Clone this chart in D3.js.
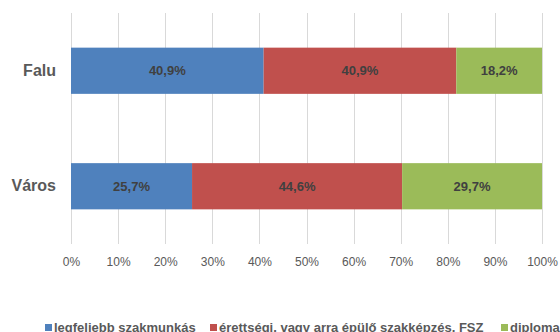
<!DOCTYPE html>
<html>
<head>
<meta charset="utf-8">
<script src="https://cdn.jsdelivr.net/npm/d3@7"></script>
<style>
  html, body { margin: 0; padding: 0; background: #fff; }
  svg { display: block; font-family: "Liberation Sans", Arial, sans-serif; }
</style>
</head>
<body>
<svg id="chart" width="560" height="332"></svg>
<script>
// Categories (top to bottom) and the three education series, in percent
const categories = ["Falu", "Város"];
const seriesNames = ["legfeljebb szakmunkás", "érettségi, vagy arra épülő szakképzés, FSZ", "diploma"];
const seriesColors = ["#4f81bd", "#c0504d", "#9bbb59"];
const szakmunkas = [40.9, 25.7];
const erettsegi = [40.9, 44.6];
const diploma = [18.2, 29.7];
const tickValues = [0, 10, 20, 30, 40, 50, 60, 70, 80, 90, 100];

const seriesValues = [szakmunkas, erettsegi, diploma];
const rows = categories.map((c, i) => {
  const r = { cat: c };
  seriesNames.forEach((s, j) => { r[s] = seriesValues[j][i]; });
  return r;
});

const svg = d3.select("#chart");
const margin = { left: 71, right: 18, top: 13, bottom: 88 };
const W = 560, H = 332;

const x = d3.scaleLinear().domain([0, 100]).range([margin.left, W - margin.right]);
const y = d3.scaleBand().domain(categories).range([margin.top, H - margin.bottom])
  .paddingInner(0.6).paddingOuter(0.3);

// vertical gridlines
svg.append("g")
  .selectAll("line").data(tickValues).join("line")
  .attr("x1", d => Math.round(x(d)) + 0.5).attr("x2", d => Math.round(x(d)) + 0.5)
  .attr("y1", margin.top).attr("y2", H - margin.bottom)
  .attr("stroke", "#d9d9d9").attr("stroke-width", 1);

// x axis tick labels
const xAxis = d3.axisBottom(x).tickValues(tickValues).tickSize(0).tickPadding(0)
  .tickFormat(d => d + "%");
svg.append("g")
  .attr("transform", `translate(0,${H - margin.bottom + 13})`)
  .call(xAxis)
  .call(g => g.select(".domain").remove())
  .call(g => g.selectAll("text")
    .attr("font-size", 12).attr("fill", "#595959")
    .attr("font-family", "Liberation Sans, Arial, sans-serif"));

// category labels
const yAxis = d3.axisLeft(y).tickSize(0).tickPadding(15);
svg.append("g")
  .attr("transform", `translate(${margin.left},0)`)
  .call(yAxis)
  .call(g => g.select(".domain").remove())
  .call(g => g.selectAll("text")
    .attr("font-size", 16).attr("font-weight", "bold").attr("fill", "#595959")
    .attr("font-family", "Liberation Sans, Arial, sans-serif"));

// stacked bars
const stacked = d3.stack().keys(seriesNames)(rows);
const fmt = v => d3.format(".1f")(v).replace(".", ",") + "%";

const layer = svg.append("g").selectAll("g").data(stacked).join("g")
  .attr("fill", (d, i) => seriesColors[i]);

layer.selectAll("rect").data(d => d).join("rect")
  .attr("x", d => x(d[0]))
  .attr("width", d => x(d[1]) - x(d[0]))
  .attr("y", d => y(d.data.cat))
  .attr("height", y.bandwidth());

// value labels centred on each segment
layer.selectAll("text").data(d => d).join("text")
  .attr("x", d => (x(d[0]) + x(d[1])) / 2)
  .attr("y", d => y(d.data.cat) + y.bandwidth() / 2)
  .attr("dy", "0.35em")
  .attr("text-anchor", "middle")
  .attr("font-size", 13).attr("font-weight", "bold")
  .attr("fill", "#404040")
  .text(d => fmt(d[1] - d[0]));

// legend along the bottom edge
const legendItems = [
  { name: seriesNames[0], color: seriesColors[0], x: 45 },
  { name: seriesNames[1], color: seriesColors[1], x: 210 },
  { name: seriesNames[2], color: seriesColors[2], x: 501 }
];
const legend = svg.append("g");
const li = legend.selectAll("g").data(legendItems).join("g")
  .attr("transform", d => `translate(${d.x},0)`);
li.append("rect").attr("x", 0).attr("y", 324).attr("width", 7).attr("height", 7)
  .attr("fill", d => d.color);
li.append("text").attr("x", 9).attr("y", 332)
  .attr("font-size", 13).attr("font-weight", "bold").attr("fill", "#595959")
  .text(d => d.name);
</script>
</body>
</html>
